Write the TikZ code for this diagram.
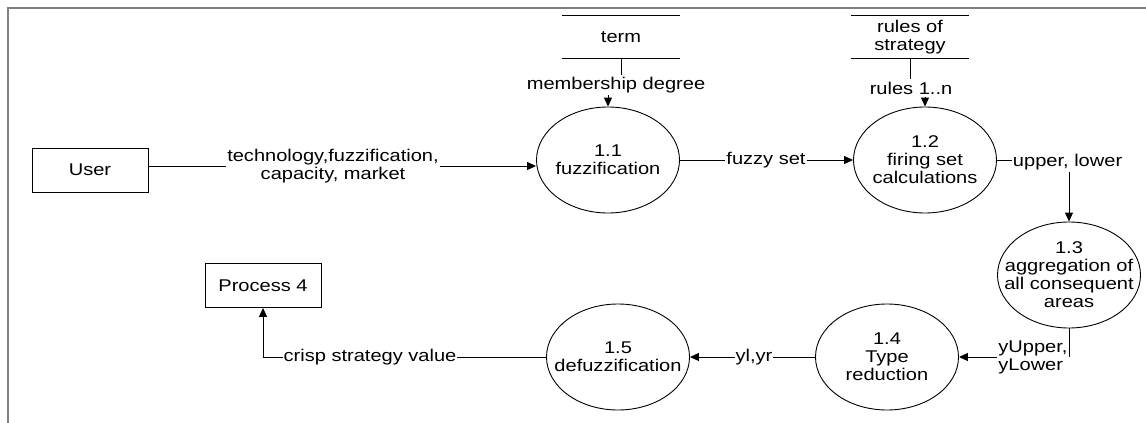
\documentclass[tikz,border=0pt]{standalone}
\usepackage{fontspec}
\setmainfont{Liberation Sans}[FakeStretch=1.18]
\usepackage{tikz}
\usetikzlibrary{arrows.meta, shapes.geometric}

\begin{document}
\begin{tikzpicture}[x=1pt, y=-1pt, line width=0.9pt,
    every node/.style={font=\fontsize{17}{18}\selectfont, align=center, inner sep=2pt},
    process/.style={draw, ellipse, minimum width=143pt, minimum height=106pt, inner xsep=-20pt, inner ysep=0pt},
    entity/.style={draw, rectangle, minimum width=116pt, minimum height=44pt},
    datastore/.style={minimum width=117pt, minimum height=42pt},
    flowlabel/.style={inner xsep=0.5pt, inner ysep=2pt},
    flow/.style={-{Triangle[length=9pt,width=8pt]}}]
      \useasboundingbox (0,0) rectangle (1146,423);

      % Frame of the page
      \draw[line width=1.5pt, gray] (8,423) -- (8,8) -- (1146,8);

      % External entities
      \node[entity] (user) at (90,170) {User};
      \node[entity] (proc) at (263,285.5) {Process 4};

      % Data stores
      \node[datastore] (term) at (621,37) {term};
      \draw (term.north west) -- (term.north east);
      \draw (term.south west) -- (term.south east);
      \node[datastore] (rules) at (910,37) {rules of\\strategy};
      \draw (rules.north west) -- (rules.north east);
      \draw (rules.south west) -- (rules.south east);

      % Processes
      \node[process] (fuzz) at (608,160) {1.1\\fuzzification};
      \node[process] (firing) at (925,160) {1.2\\firing set\\calculations};
      \node[process] (agg) at (1069,275) {1.3\\aggregation of\\all consequent\\areas};
      \node[process] (typer) at (887,357) {1.4\\Type\\reduction};
      \node[process] (defuzz) at (618,357) {1.5\\defuzzification};

      % Flow labels
      \node[flowlabel] (tech) at (333,166) {technology,fuzzification,\\capacity, market};
      \node[flowlabel] (memb) at (616,85) {membership degree};
      \node[flowlabel] (rn) at (911,88) {rules 1..n};
      \node[flowlabel] (fs) at (766,160) {fuzzy set};
      \node[flowlabel, anchor=west] (ul) at (1012,162) {upper, lower};
      \node[flowlabel, anchor=east, align=left] (yu) at (1068.5,357) {yUpper,\\yLower};
      \node[flowlabel] (ylyr) at (754,357) {yl,yr};
      \node[flowlabel] (crisp) at (370,357) {crisp strategy value};

      % Data flows
      \draw ([yshift=4pt]user.east) -- (tech.west);
      \draw[flow] (tech.east) -- (tech.east -| fuzz.west);
      \draw (term.south) -- (term.south |- memb.north);
      \draw[flow] (memb.south -| fuzz.north) -- (fuzz.north);
      \draw (fuzz.east) -- (fs.west);
      \draw[flow] (fs.east) -- (firing.west);
      \draw (rules.south) -- (rules.south |- rn.north);
      \draw[flow] (rn.south -| firing.north) -- (firing.north);
      \draw (firing.east) -- (firing.east -| ul.west);
      \draw[flow] (ul.south -| agg.north) -- (agg.north);
      \draw (agg.south) -- (agg.south |- yu.center);
      \draw[flow] (yu.west) -- (typer.east);
      \draw (typer.west) -- (ylyr.east);
      \draw[flow] (ylyr.west) -- (defuzz.east);
      \draw (defuzz.west) -- (crisp.east);
      \draw[flow] (crisp.west) -| (proc.south);
\end{tikzpicture}
\end{document}
